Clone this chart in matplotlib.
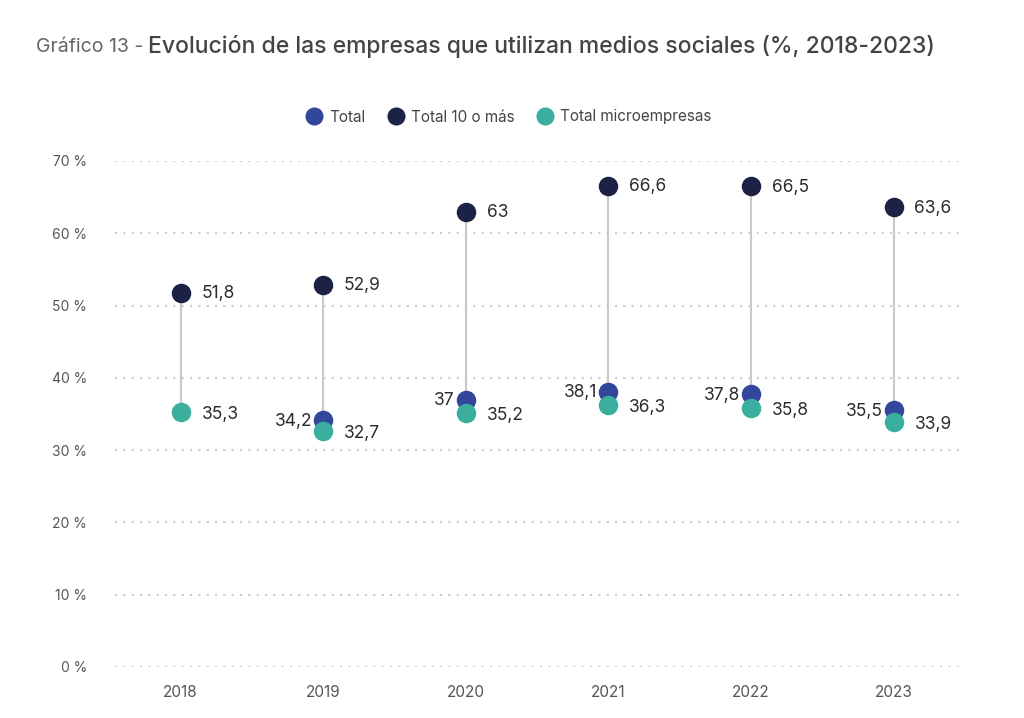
import matplotlib
matplotlib.use("Agg")
import matplotlib.pyplot as plt
from matplotlib.lines import Line2D
import numpy as np

plt.rcParams['font.family'] = ['Inter', 'DejaVu Sans']

years = ["2018", "2019", "2020", "2021", "2022", "2023"]
total = [None, 34.2, 37.0, 38.1, 37.8, 35.5]
total10 = [51.8, 52.9, 63.0, 66.6, 66.5, 63.6]
micro = [35.3, 32.7, 35.2, 36.3, 35.8, 33.9]
yticks = [0, 10, 20, 30, 40, 50, 60, 70]

c_total = "#33479a"
c_10 = "#1b2245"
c_micro = "#3aaf9e"

def fmt(v):
    s = f"{v:.1f}".replace(".", ",")
    if s.endswith(",0"):
        s = s[:-2]
    return s

fig = plt.figure(figsize=(10.24, 7.18), dpi=100)
ax = fig.add_axes([115/1024, 1-667/718, (962-115)/1024, (667-161)/718])
x = np.arange(len(years))

for xi, t10, m in zip(x, total10, micro):
    ax.plot([xi, xi], [m, t10], color="#c9c9c9", lw=1.5, zorder=1)

ms = 170
ax.scatter(x, total10, s=ms, color=c_10, zorder=3, clip_on=False)
tx = [xi for xi, v in zip(x, total) if v is not None]
tv = [v for v in total if v is not None]
ax.scatter(tx, tv, s=ms, color=c_total, zorder=3, clip_on=False)
ax.scatter(x, micro, s=ms, color=c_micro, zorder=4, clip_on=False)

lab = dict(fontsize=12.5, color="#2b2b2b")
for xi, v in zip(x, total10):
    ax.annotate(fmt(v), (xi, v), xytext=(15, -1), textcoords="offset points",
                ha="left", va="center", **lab)
for xi, v in zip(x, micro):
    ax.annotate(fmt(v), (xi, v), xytext=(15, -2), textcoords="offset points",
                ha="left", va="center", **lab)
for xi, v in zip(tx, tv):
    ax.annotate(fmt(v), (xi, v), xytext=(-8, -1), textcoords="offset points",
                ha="right", va="center", **lab)

ax.set_ylim(0, 70)
ax.set_xlim(-0.46, 5.48)
ax.set_yticks(yticks)
ax.set_yticklabels([f"{t} %" for t in yticks])
ax.set_xticks(x)
ax.set_xticklabels(years)
ax.tick_params(axis="y", length=0, labelsize=10, colors="#555555", pad=20)
ax.tick_params(axis="x", length=0, labelsize=11, colors="#555555", pad=13)
for s in ax.spines.values():
    s.set_visible(False)
ax.yaxis.grid(True, color="#cccccc", linestyle=(0, (1, 3)), lw=1.5)
ax.set_axisbelow(True)

fig.text(36/1024, 1-47/718, "Gráfico 13 - ", fontsize=14, color="#666666",
         va="center", ha="left")
fig.text(148/1024, 1-47/718, "Evolución de las empresas que utilizan medios sociales (%, 2018-2023)",
         fontsize=16.5, color="#444444", va="center", ha="left", fontweight="medium")

handles = [Line2D([], [], marker="o", ls="", ms=12, color=c) for c in (c_total, c_10, c_micro)]
fig.legend(handles, ["Total", "Total 10 o más", "Total microempresas"],
           loc="center", bbox_to_anchor=(505/1024, 1-117/718), ncol=3, frameon=False,
           fontsize=11, handletextpad=0.0, columnspacing=1.0, labelcolor="#444444")

fig.savefig("out.png", dpi=100, facecolor="white")
